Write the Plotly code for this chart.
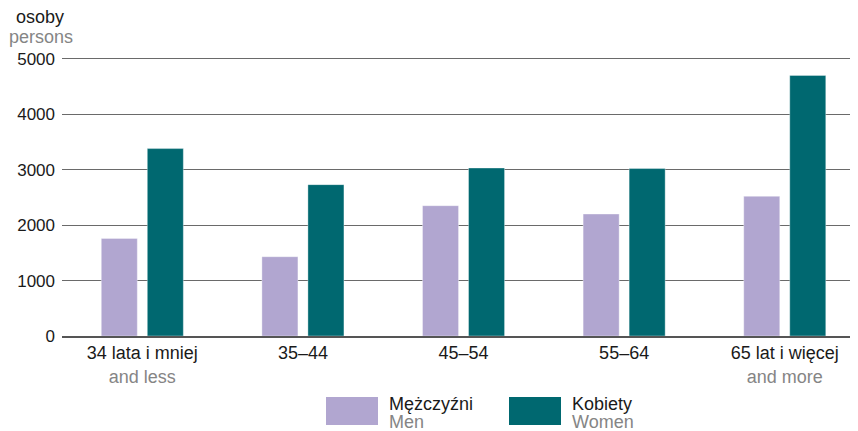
import plotly.graph_objects as go

categories_pl = ["34 lata i mniej", "35–44", "45–54", "55–64", "65 lat i więcej"]
categories_en = ["and less", "", "", "", "and more"]
men = [1760, 1430, 2350, 2200, 2520]
women = [3380, 2730, 3030, 3020, 4700]
y_ticks = [0, 1000, 2000, 3000, 4000, 5000]
series_pl = ["Mężczyźni", "Kobiety"]
series_en = ["Men", "Women"]
colors = ["#b1a6d0", "#006870"]

FONT = "Liberation Sans, Arial, sans-serif"
GREY = "#858585"
DARK = "#1a1a1a"

# page body has an 8px margin; figure coords = screen coords - 8
W, H = 850, 423
L, T, B = 54, 48, 95
PW, PH = W - L, H - T - B  # 796 x 280

x = list(range(len(categories_pl)))
ticktext = [
    f"{p}<br><span style='color:{GREY}'>{e}</span>" if e else p
    for p, e in zip(categories_pl, categories_en)
]

fig = go.Figure()
for name, vals, col in zip(series_pl, [men, women], colors):
    fig.add_trace(go.Bar(x=x, y=vals, name=name,
                         marker=dict(color=col, line=dict(color="rgba(255,255,255,0.6)", width=0.6)),
                         showlegend=False))

fig.update_layout(
    width=W, height=H,
    margin=dict(l=L, r=0, t=T, b=B, pad=0),
    paper_bgcolor="white", plot_bgcolor="white",
    barmode="group", bargap=0.427, bargroupgap=0.217,
    font=dict(family=FONT, size=18, color=DARK),
    xaxis=dict(range=[-0.5, 4.456], tickvals=x, ticktext=ticktext, showgrid=False,
               showline=True, linecolor="#555", linewidth=1.5, ticks="", zeroline=False,
               tickfont=dict(size=18, color=DARK)),
    yaxis=dict(range=[0, 5050], tickvals=y_ticks, showgrid=True, gridcolor="#6a6a6a", gridwidth=1.2,
               zeroline=False, ticks="", ticklabelstandoff=6, tickfont=dict(size=17, color=DARK)),
)

def px(sx):  # screen x -> paper
    return (sx - 8 - L) / PW

def py(sy):  # screen y -> paper
    return (H - B - (sy - 8)) / PH

# axis titles
fig.add_annotation(text="osoby", xref="paper", yref="paper", x=px(14), y=py(17), xanchor="left",
                   yanchor="middle", showarrow=False, font=dict(size=18, color=DARK))
fig.add_annotation(text="persons", xref="paper", yref="paper", x=px(7), y=py(37), xanchor="left",
                   yanchor="middle", showarrow=False, font=dict(size=18, color=GREY))

# manual legend
legend_x = [326, 509]
for i, (pl, en, col) in enumerate(zip(series_pl, series_en, colors)):
    x0 = legend_x[i]
    fig.add_shape(type="rect", xref="paper", yref="paper",
                  x0=px(x0), x1=px(x0 + 52), y0=py(425), y1=py(397),
                  fillcolor=col, line=dict(width=0))
    fig.add_annotation(text=pl, xref="paper", yref="paper", x=px(x0 + 61), y=py(404),
                       xanchor="left", yanchor="middle", showarrow=False, font=dict(size=18, color=DARK))
    fig.add_annotation(text=en, xref="paper", yref="paper", x=px(x0 + 61), y=py(422),
                       xanchor="left", yanchor="middle", showarrow=False, font=dict(size=18, color=GREY))

fig.write_html("out.html")
